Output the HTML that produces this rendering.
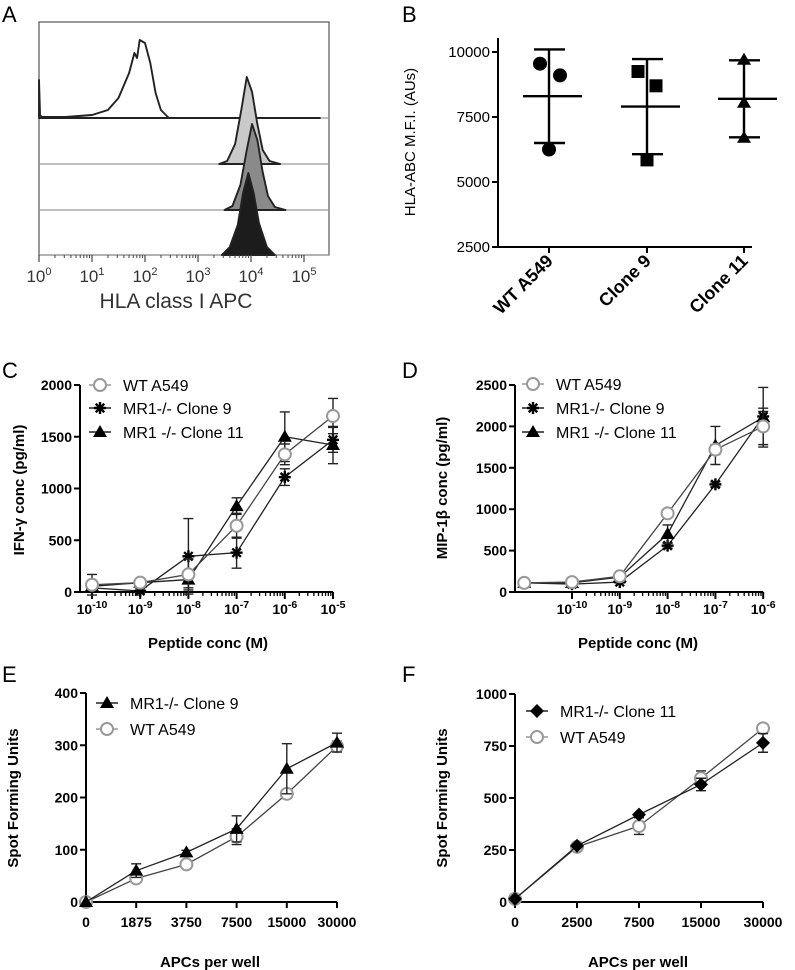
<!DOCTYPE html>
<html><head><meta charset="utf-8">
<style>
html,body{margin:0;padding:0;background:#fff;}
svg{display:block;font-family:"Liberation Sans",Arial,sans-serif;}
</style></head>
<body>
<svg id="fig" width="795" height="970" viewBox="0 0 795 970"></svg>
<script>
// ---------- Panel A data (log10 fluorescence, counts) ----------
const histUnstLog=[0,0.02,0.05,0.5,1.0,1.3,1.5,1.7,1.8,1.85,1.9,2.0,2.1,2.2,2.3,2.45,5.3];
const histUnstCnt=[38,3,1,1,3,8,20,45,65,60,78,75,55,25,8,0,0];
const histWTLog=[3.4,3.55,3.7,3.82,3.92,4.02,4.12,4.22,4.35,4.55];
const histWTCnt=[0,3,20,55,87,72,40,14,3,0];
const histC9Log=[3.5,3.65,3.8,3.92,4.02,4.12,4.22,4.32,4.45,4.65];
const histC9Cnt=[0,4,25,60,86,70,38,14,3,0];
const histC11Log=[3.45,3.6,3.75,3.85,3.95,4.05,4.15,4.3,4.45];
const histC11Cnt=[0,8,30,62,82,62,32,8,0];
// ---------- Panel B data ----------
const bCats=["WT A549","Clone 9","Clone 11"];
const bPts=[[9550,9100,6250],[9250,8700,5850],[9700,8050,6700]];
const bMean=[8300,7900,8200];
const bSD=[1800,1830,1480];
const bTicks=[2500,5000,7500,10000];
// ---------- Panel C data ----------
const cX=[-10,-9,-8,-7,-6,-5];
const cWT=[70,90,170,640,1330,1700];
const cWTerr=[100,30,150,120,100,170];
const cC9=[40,10,345,380,1110,1470];
const cC9err=[20,20,365,150,80,120];
const cC11=[55,90,120,830,1500,1420];
const cC11err=[20,40,80,80,240,180];
const cYTicks=[0,500,1000,1500,2000];
// ---------- Panel D data ----------
const dX=[-11,-10,-9,-8,-7,-6];
const dWT=[110,120,190,950,1720,2000];
const dWTerr=[20,20,20,40,60,220];
const dC9=[110,95,120,560,1300,2120];
const dC9err=[10,10,10,30,30,60];
const dC11=[110,110,180,700,1770,2110];
const dC11err=[10,10,20,110,230,360];
const dYTicks=[0,500,1000,1500,2000,2500];
// ---------- Panel E data ----------
const eCats=["0","1875","3750","7500","15000","30000"];
const eC9=[0,60,95,140,255,305];
const eC9err=[0,13,4,25,48,18];
const eWT=[0,45,72,125,207,298];
const eWTerr=[0,4,4,15,8,10];
const eYTicks=[0,100,200,300,400];
// ---------- Panel F data ----------
const fCats=["0","2500","7500","15000","30000"];
const fC11=[15,270,420,565,765];
const fC11err=[0,5,5,30,45];
const fWT=[15,265,365,595,835];
const fWTerr=[0,5,40,35,5];
const fYTicks=[0,250,500,750,1000];

const NS='http://www.w3.org/2000/svg';
const svg=document.getElementById('fig');
function mk(tag,attrs,parent){const e=document.createElementNS(NS,tag);for(const k in attrs)e.setAttribute(k,attrs[k]);(parent||svg).appendChild(e);return e;}
function txt(s,attrs,parent){const e=mk('text',attrs,parent);e.textContent=s;return e;}
function grp(name){const g=mk('g',{});return g;}
function powLabel(g,x,y,exp,size){
  const t=mk('text',{x:x,y:y,'text-anchor':'middle','font-size':size,'font-weight':'bold'},g);
  
  
  const a=mk('tspan',{},t);a.textContent='10';
  const b=mk('tspan',{dy:-6,'font-size':size*0.75},t);b.textContent=exp;
  return t;
}
function marker(g,type,x,y){
  let m;
  if(type==='open'){m=mk('circle',{cx:x,cy:y,r:6,fill:'#fff',stroke:'#999','stroke-width':2},g);}
  else if(type==='tri'){m=mk('polygon',{points:`${x},${y-7} ${x+7},${y+5} ${x-7},${y+5}`,fill:'#000'},g);}
  else if(type==='dia'){m=mk('polygon',{points:`${x},${y-7} ${x+7},${y} ${x},${y+7} ${x-7},${y}`,fill:'#000'},g);}
  else if(type==='circ'){m=mk('circle',{cx:x,cy:y,r:7,fill:'#000'},g);}
  else if(type==='sq'){m=mk('rect',{x:x-6.5,y:y-6.5,width:13,height:13,fill:'#000'},g);}
  else if(type==='star'){
    m=mk('g',{},g);
    for(let i=0;i<4;i++){const a=i*Math.PI/4;mk('line',{x1:x-6*Math.cos(a),y1:y-6*Math.sin(a),x2:x+6*Math.cos(a),y2:y+6*Math.sin(a),stroke:'#000','stroke-width':2.4},m);}
  }
  
  
  return m;
}
function series(g,xs,ys,errs,type,xf,yf,lineColor){
  const pts=xs.map((xv,i)=>`${xf(xv,i)},${yf(ys[i])}`).join(' ');
  const pl=mk('polyline',{points:pts,fill:'none',stroke:lineColor||'#222','stroke-width':1.3},g);
  
  
  xs.forEach((xv,i)=>{
    const X=xf(xv,i);
    if(errs[i]>0){
      const y1=yf(ys[i]+errs[i]),y2=yf(ys[i]-errs[i]);
      const eb=mk('path',{d:`M${X},${y1}V${y2}M${X-5},${y1}H${X+5}M${X-5},${y2}H${X+5}`,stroke:'#222','stroke-width':1.4,fill:'none'},g);
      
      
    }
  });
  xs.forEach((xv,i)=>marker(g,type,xf(xv,i),yf(ys[i])));
}
function yAxis(g,x,yTop,yBot,ticks,yf,size){
  mk('line',{x1:x,y1:yTop,x2:x,y2:yBot,stroke:'#000','stroke-width':2},g);
  ticks.forEach(t=>{
    mk('line',{x1:x-6,y1:yf(t),x2:x,y2:yf(t),stroke:'#000','stroke-width':2},g);
    const l=txt(String(t),{x:x-8,y:yf(t)+5,'text-anchor':'end','font-size':size||14,'font-weight':'bold'},g);
    
    
  });
}
function legend(g,x,y,type,label,lineColor){
  mk('line',{x1:x-11,y1:y,x2:x+11,y2:y,stroke:lineColor||'#222','stroke-width':1.5},g);
  marker(g,type,x,y);
  const t=txt(label,{x:x+23,y:y+6,'font-size':16},g);
  
  
}
function panelLetter(s,x,y){const t=txt(s,{x:x,y:y,'font-size':22},svg);}
function yTitle(g,s,x,y,size,bold){const t=txt(s,{x:x,y:y,'text-anchor':'middle','font-size':size,'font-weight':bold?'bold':'normal',transform:`rotate(-90 ${x} ${y})`},g);}
function xTitle(g,s,x,y){const t=txt(s,{x:x,y:y,'text-anchor':'middle','font-size':15,'font-weight':'bold'},g);}

// ================= Panel A =================
panelLetter('A',2,22);
(function(){
  const g=grp('histogram-panel');
  const L=39,R=329,T=22,B=255;
  const xa=l=>L+l*53;
  mk('rect',{x:L,y:T,width:R-L,height:B-T,fill:'none',stroke:'#555','stroke-width':1.2},g);
  const hists=[
    [histUnstLog,histUnstCnt,118,'#fff'],
    [histWTLog,histWTCnt,164,'#c9c9c9'],
    [histC9Log,histC9Cnt,210,'#8a8a8a'],
    [histC11Log,histC11Cnt,255,'#1c1c1c']];
  hists.forEach(h=>{
    mk('line',{x1:L,y1:h[2],x2:R,y2:h[2],stroke:'#999','stroke-width':1.2},g);
    const pts=h[0].map((l,i)=>`${xa(l)},${h[2]-h[1][i]}`);
    const p=mk('polygon',{points:pts.join(' ')+` ${xa(h[0][h[0].length-1])},${h[2]} ${xa(h[0][0])},${h[2]}`,fill:h[3],stroke:'#222','stroke-width':1.9,'stroke-linejoin':'round'},g);
    
    
  });
  for(let d=0;d<=5;d++){
    mk('line',{x1:xa(d),y1:B,x2:xa(d),y2:B+7,stroke:'#444','stroke-width':1.2},g);
    if(d<5)for(let k=2;k<10;k++){const xx=xa(d+Math.log10(k));if(xx<R)mk('line',{x1:xx,y1:B,x2:xx,y2:B+3,stroke:'#444','stroke-width':1},g);}
    const t=mk('text',{x:xa(d),y:282,'text-anchor':'middle','font-size':17,fill:'#333'},g);
    
    
    const a=mk('tspan',{},t);a.textContent='10';
    const b=mk('tspan',{dy:-7,'font-size':11},t);b.textContent=String(d);
  }
  const t=txt('HLA class I APC',{x:176,y:308,'text-anchor':'middle','font-size':21,fill:'#333'},g);
  
  
})();

// ================= Panel B =================
panelLetter('B',402,22);
(function(){
  const g=grp('mfi-scatter-panel');
  const yf=v=>247-(v-2500)*65/2500;
  const xc=[549,647,744];
  mk('line',{x1:498,y1:38,x2:498,y2:247,stroke:'#000','stroke-width':2},g);
  mk('line',{x1:498,y1:247,x2:752,y2:247,stroke:'#000','stroke-width':2},g);
  bTicks.forEach(t=>{
    mk('line',{x1:492,y1:yf(t),x2:498,y2:yf(t),stroke:'#000','stroke-width':2},g);
    const l=txt(String(t),{x:490,y:yf(t)+5,'text-anchor':'end','font-size':15},g);
    
    
  });
  const types=['circ','sq','tri'];
  const offs=[[-9,11,0],[-9,9,0],[0,0,0]];
  bCats.forEach((c,i)=>{
    const x=xc[i];
    mk('line',{x1:x,y1:247,x2:x,y2:253,stroke:'#000','stroke-width':2},g);
    const lab=txt(c,{x:x+5,y:262,'text-anchor':'end','font-size':18,'font-weight':'bold',transform:`rotate(-45 ${x+5} 262)`},g);
    
    
    bPts[i].forEach((v,j)=>marker(g,types[i],x+offs[i][j],yf(v)));
    const hi=yf(bMean[i]+bSD[i]),lo=yf(bMean[i]-bSD[i]);
    const eb=mk('path',{d:`M${x},${hi}V${lo}M${x-15},${hi}H${x+16}M${x-15},${lo}H${x+16}M${x-26},${yf(bMean[i])}H${x+33}`,stroke:'#000','stroke-width':2.4,fill:'none'},g);
    
    
  });
  yTitle(g,'HLA-ABC M.F.I. (AUs)',415,142,15,false);
})();

// ================= Panel C =================
panelLetter('C',2,378);
(function(){
  const g=grp('ifn-gamma-chart');
  const xf=v=>92+(v+10)*48.2;
  const yf=v=>592-v*207/2000;
  yAxis(g,80,385,593,cYTicks,yf,14);
  mk('line',{x1:80,y1:592,x2:xf(-5),y2:592,stroke:'#000','stroke-width':2},g);
  cX.forEach(v=>{mk('line',{x1:xf(v),y1:592,x2:xf(v),y2:599,stroke:'#000','stroke-width':2},g);powLabel(g,xf(v),614,String(v),14);});
  for(let d=-10;d<-5;d++)for(let k=2;k<10;k++){const xx=xf(d+Math.log10(k));mk('line',{x1:xx,y1:592,x2:xx,y2:596,stroke:'#000','stroke-width':1.3},g);}
  const f=(v,i)=>xf(v);
  series(g,cX,cC9,cC9err,'star',f,yf,'#222');
  series(g,cX,cC11,cC11err,'tri',f,yf,'#222');
  series(g,cX,cWT,cWTerr,'open',f,yf,'#444');
  legend(g,100,385,'open','WT A549','#999');
  legend(g,100,408,'star','MR1-/- Clone 9');
  legend(g,100,432,'tri','MR1 -/- Clone 11');
  yTitle(g,'IFN-\u03b3 conc (pg/ml)',24,490,15,true);
  xTitle(g,'Peptide conc (M)',208,648);
})();

// ================= Panel D =================
panelLetter('D',402,378);
(function(){
  const g=grp('mip-1beta-chart');
  const xf=v=>572+(v+10)*47.8;
  const yf=v=>592-v*207/2500;
  yAxis(g,515,385,593,dYTicks,yf,14);
  mk('line',{x1:515,y1:592,x2:xf(-6),y2:592,stroke:'#000','stroke-width':2},g);
  [-10,-9,-8,-7,-6].forEach(v=>{mk('line',{x1:xf(v),y1:592,x2:xf(v),y2:599,stroke:'#000','stroke-width':2},g);powLabel(g,xf(v),614,String(v),14);});
  for(let d=-10;d<-6;d++)for(let k=2;k<10;k++){const xx=xf(d+Math.log10(k));mk('line',{x1:xx,y1:592,x2:xx,y2:596,stroke:'#000','stroke-width':1.3},g);}
  const f=(v,i)=>xf(v);
  series(g,dX,dC9,dC9err,'star',f,yf,'#222');
  series(g,dX,dC11,dC11err,'tri',f,yf,'#222');
  series(g,dX,dWT,dWTerr,'open',f,yf,'#444');
  legend(g,533,384,'open','WT A549','#999');
  legend(g,533,408,'star','MR1-/- Clone 9');
  legend(g,533,432,'tri','MR1 -/- Clone 11');
  yTitle(g,'MIP-1\u03b2 conc (pg/ml)',447,488,15,true);
  xTitle(g,'Peptide conc (M)',638,648);
})();

// ================= Panel E =================
panelLetter('E',2,682);
(function(){
  const g=grp('spot-forming-clone9-chart');
  const xf=(v,i)=>86+i*50.2;
  const yf=v=>902-v*209/400;
  yAxis(g,86,693,903,eYTicks,yf,14);
  mk('line',{x1:86,y1:902,x2:xf(0,5),y2:902,stroke:'#000','stroke-width':2},g);
  eCats.forEach((c,i)=>{mk('line',{x1:xf(c,i),y1:902,x2:xf(c,i),y2:908,stroke:'#000','stroke-width':2},g);const l=txt(c,{x:xf(c,i),y:927,'text-anchor':'middle','font-size':14,'font-weight':'bold'},g);});
  series(g,eCats,eWT,eWTerr,'open',xf,yf,'#444');
  series(g,eCats,eC9,eC9err,'tri',xf,yf,'#222');
  legend(g,107,703,'tri','MR1-/- Clone 9');
  legend(g,107,729,'open','WT A549','#999');
  yTitle(g,'Spot Forming Units',18,798,15,true);
  xTitle(g,'APCs per well',210,967);
})();

// ================= Panel F =================
panelLetter('F',402,682);
(function(){
  const g=grp('spot-forming-clone11-chart');
  const xf=(v,i)=>515+i*62;
  const yf=v=>902-v*208/1000;
  yAxis(g,515,694,903,fYTicks,yf,14);
  mk('line',{x1:515,y1:902,x2:xf(0,4),y2:902,stroke:'#000','stroke-width':2},g);
  fCats.forEach((c,i)=>{mk('line',{x1:xf(c,i),y1:902,x2:xf(c,i),y2:908,stroke:'#000','stroke-width':2},g);const l=txt(c,{x:xf(c,i),y:927,'text-anchor':'middle','font-size':14,'font-weight':'bold'},g);});
  series(g,fCats,fWT,fWTerr,'open',xf,yf,'#444');
  series(g,fCats,fC11,fC11err,'dia',xf,yf,'#222');
  legend(g,537,711,'dia','MR1-/- Clone 11');
  legend(g,537,737,'open','WT A549','#999');
  yTitle(g,'Spot Forming Units',447,798,15,true);
  xTitle(g,'APCs per well',638,967);
})();
</script>
</body></html>
